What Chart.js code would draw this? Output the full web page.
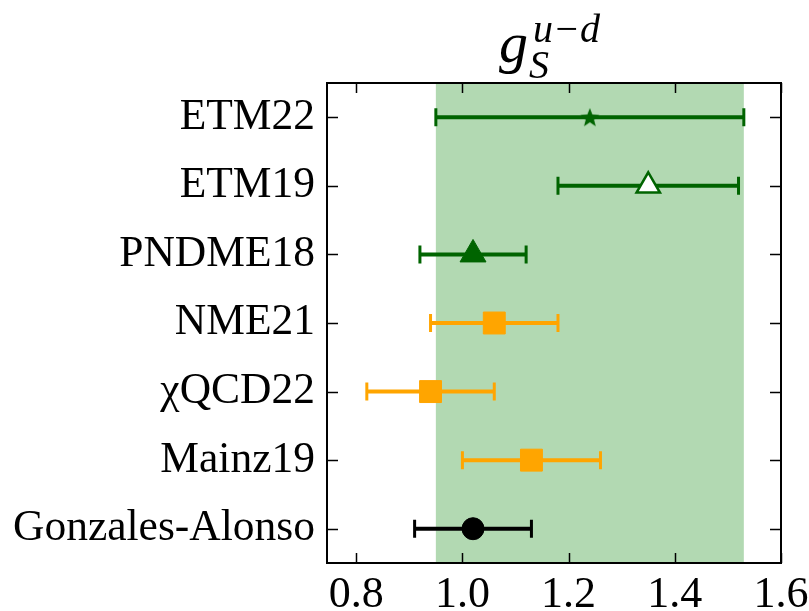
<!DOCTYPE html>
<html>
<head>
<meta charset="utf-8">
<script src="https://cdn.jsdelivr.net/npm/chart.js@4/dist/chart.umd.min.js"></script>
<style>
  html, body { margin: 0; padding: 0; background: #fff; }
  #wrap { width: 809px; height: 611px; position: relative; }
</style>
</head>
<body>
<div id="wrap"><canvas id="chart" width="809" height="611"></canvas></div>
<script>
// Data
const labels = ['ETM22', 'ETM19', 'PNDME18', 'NME21', '\u03C7QCD22', 'Mainz19', 'Gonzales-Alonso'];
const values = [1.24, 1.35, 1.02, 1.06, 0.94, 1.13, 1.02];
const errors = [0.29, 0.17, 0.10, 0.12, 0.12, 0.13, 0.11];
const xTicks = [0.8, 1.0, 1.2, 1.4, 1.6];
const band = [0.95, 1.53];

// Styles for each row
const DKGREEN = '#006400';
const ORANGE = '#FFA500';
const colors = [DKGREEN, DKGREEN, DKGREEN, ORANGE, ORANGE, ORANGE, '#000000'];
const fills = [DKGREEN, '#ffffff', DKGREEN, ORANGE, ORANGE, ORANGE, '#000000'];

// filled five-point star for ETM22
const starImg = document.createElement('canvas');
starImg.width = 24;
starImg.height = 24;
(function () {
    const c = starImg.getContext('2d');
    c.beginPath();
    for (let i = 0; i < 10; i++) {
        const r = i % 2 === 0 ? 10 : 4.3;
        const a = -Math.PI / 2 + i * Math.PI / 5;
        c.lineTo(12 + r * Math.cos(a), 12.8 + r * Math.sin(a));
    }
    c.closePath();
    c.fillStyle = DKGREEN;
    c.fill();
})();

const markers = [starImg, 'triangle', 'triangle', 'rect', 'rect', 'rect', 'circle'];
const radii = [12, 13.5, 15, 15.5, 15.5, 15.5, 11];
const borders = [0, 2.5, 1, 1, 1, 1, 1];

const points = values.map((v, i) => ({ x: v, y: i }));

// green band + error bars behind the markers
const errorBars = {
    id: 'errorBars',
    beforeDatasetsDraw(chart) {
        const { ctx, chartArea, scales } = chart;
        const xs = scales.x, ys = scales.y;
        ctx.save();
        ctx.fillStyle = 'rgba(0,128,0,0.3)';
        const b0 = xs.getPixelForValue(band[0]);
        const b1 = xs.getPixelForValue(band[1]);
        ctx.fillRect(b0, chartArea.top, b1 - b0, chartArea.bottom - chartArea.top);

        values.forEach((v, i) => {
            const y = ys.getPixelForValue(i);
            const lo = xs.getPixelForValue(v - errors[i]);
            const hi = xs.getPixelForValue(v + errors[i]);
            ctx.strokeStyle = colors[i];
            ctx.lineWidth = 4;
            ctx.beginPath();
            ctx.moveTo(lo, y);
            ctx.lineTo(hi, y);
            ctx.stroke();
            ctx.lineWidth = 3;
            ctx.beginPath();
            ctx.moveTo(lo, y - 9);
            ctx.lineTo(lo, y + 9);
            ctx.moveTo(hi, y - 9);
            ctx.lineTo(hi, y + 9);
            ctx.stroke();
        });
        ctx.restore();
    }
};

// frame with inward ticks on all sides, plus the title
const frame = {
    id: 'frame',
    afterDraw(chart) {
        const { ctx, chartArea, scales } = chart;
        const { left, right, top, bottom } = chartArea;
        ctx.save();
        ctx.strokeStyle = '#000';
        ctx.lineWidth = 1.5;
        ctx.beginPath();
        xTicks.forEach(t => {
            const x = Math.round(scales.x.getPixelForValue(t)) + 0.5;
            ctx.moveTo(x, bottom);
            ctx.lineTo(x, bottom - 10);
            ctx.moveTo(x, top);
            ctx.lineTo(x, top + 10);
        });
        labels.forEach((l, i) => {
            const y = Math.round(scales.y.getPixelForValue(i)) + 0.5;
            ctx.moveTo(left, y);
            ctx.lineTo(left + 11, y);
            ctx.moveTo(right, y);
            ctx.lineTo(right - 11, y);
        });
        ctx.stroke();
        ctx.lineWidth = 2;
        ctx.strokeRect(left, top, right - left, bottom - top);

        // title g_S^{u-d}
        ctx.fillStyle = '#000';
        ctx.textBaseline = 'alphabetic';
        ctx.textAlign = 'left';
        ctx.font = 'italic 58px "Liberation Serif"';
        ctx.fillText('g', 499, 62);
        ctx.font = 'italic 40px "Liberation Serif"';
        ctx.fillText('S', 529, 78);
        ctx.fillText('u\u2212d', 533, 42);
        ctx.restore();
    }
};

new Chart(document.getElementById('chart').getContext('2d'), {
    type: 'scatter',
    data: {
        datasets: [{
            data: points,
            pointStyle: markers,
            pointRadius: radii,
            pointBackgroundColor: fills,
            pointBorderColor: colors,
            pointBorderWidth: borders,
            showLine: false
        }]
    },
    options: {
        responsive: false,
        animation: false,
        events: [],
        layout: { padding: { top: 83, right: 28, left: 0, bottom: 0 } },
        plugins: {
            legend: { display: false },
            tooltip: { enabled: false }
        },
        scales: {
            x: {
                type: 'linear',
                min: 0.745,
                max: 1.6,
                grid: { display: false, drawTicks: false },
                border: { display: false },
                afterBuildTicks: s => { s.ticks = xTicks.map(v => ({ value: v })); },
                afterFit: s => { s.height = 48; s.paddingLeft = 0; s.paddingRight = 0; },
                ticks: {
                    padding: 6,
                    color: '#000',
                    font: { family: '"Liberation Serif"', size: 44 },
                    maxRotation: 0,
                    callback: v => v.toFixed(1)
                }
            },
            y: {
                type: 'linear',
                reverse: true,
                min: -0.5,
                max: 6.5,
                grid: { display: false, drawTicks: false },
                border: { display: false },
                afterBuildTicks: s => { s.ticks = labels.map((l, i) => ({ value: i })); },
                afterFit: s => { s.width = 327; s.paddingTop = 0; s.paddingBottom = 0; },
                ticks: {
                    padding: 12,
                    color: '#000',
                    font: { family: '"Liberation Serif"', size: 43.5 },
                    callback: v => labels[v]
                }
            }
        }
    },
    plugins: [errorBars, frame]
});
</script>
</body>
</html>
